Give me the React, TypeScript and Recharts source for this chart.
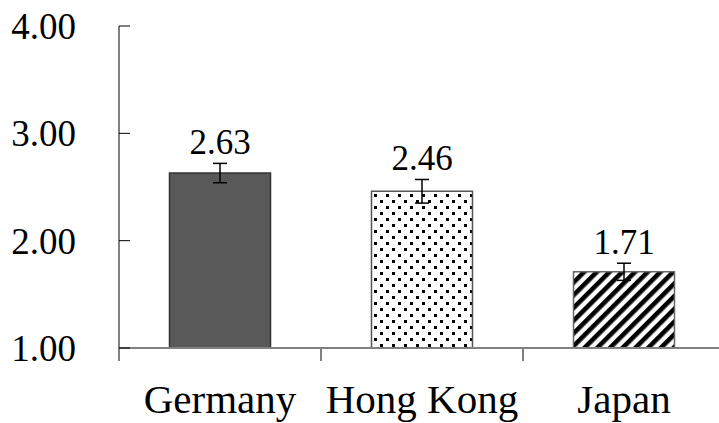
import React from 'react';
import { ComposedChart, Bar, Line, XAxis, YAxis, ErrorBar, LabelList, Cell } from 'recharts';

const categories = ['Germany', 'Hong Kong', 'Japan'];
const means = [2.63, 2.46, 1.71];
const errors = [0.09, 0.11, 0.08];
const yTicks = [1, 2, 3, 4];
const fills = ['#595959', 'url(#dots)', 'url(#stripes)'];
const strokes = ['#333333', '#555555', '#666666'];

const data = categories.map((name, i) => ({
  name,
  value: means[i],
  err: errors[i],
  top: means[i] + errors[i],
}));

const FONT = "'Times New Roman', 'Liberation Serif', 'DejaVu Serif'";
const CHART_W = 730;
const CHART_H = 423;
const MARGIN_RIGHT = 5;
const YAXIS_W = 119;
const BAND = (CHART_W - MARGIN_RIGHT - YAXIS_W) / categories.length;

function XTick(props: any) {
  const { x, y, payload } = props;
  return (
    <g>
      <line x1={x - BAND / 2} x2={x - BAND / 2} y1={y} y2={y + 13} stroke="#808080" strokeWidth={2} />
      <line x1={x + BAND / 2} x2={x + BAND / 2} y1={y} y2={y + 13} stroke="#808080" strokeWidth={2} />
      <text x={x} y={y + 65} textAnchor="middle" fontFamily={FONT} fontSize={41} fill="#000">
        {payload.value}
      </text>
    </g>
  );
}

function YTick(props: any) {
  const { x, y, payload } = props;
  return (
    <g>
      <line x1={x} x2={x + 11} y1={y} y2={y} stroke="#000" strokeWidth={1} />
      <text x={x - 43} y={y} dy="0.35em" textAnchor="end" fontFamily={FONT} fontSize={37} fill="#000">
        {Number(payload.value).toFixed(2)}
      </text>
    </g>
  );
}

export default function App() {
  return (
    <div style={{ position: 'absolute', left: 0, top: 0, width: 719, height: 423, overflow: 'hidden', background: '#fff', fontFamily: FONT }}>
      <ComposedChart
        width={CHART_W}
        height={CHART_H}
        data={data}
        margin={{ top: 26, right: MARGIN_RIGHT, bottom: 0, left: 0 }}
        barCategoryGap="25%"
      >
        <defs>
          <pattern id="dots" width="12" height="12" patternUnits="userSpaceOnUse">
            <rect width="12" height="12" fill="#fff" />
            <rect x="2" y="2" width="3" height="3" fill="#000" />
            <rect x="8" y="8" width="3" height="3" fill="#000" />
          </pattern>
          <pattern id="stripes" width="9" height="9" patternUnits="userSpaceOnUse" patternTransform="rotate(45)">
            <rect width="9" height="9" fill="#fff" />
            <rect width="4.6" height="9" fill="#000" />
          </pattern>
        </defs>
        <XAxis
          dataKey="name"
          height={75}
          tickSize={0}
          tickMargin={0}
          tickLine={false}
          axisLine={{ stroke: '#808080', strokeWidth: 2 }}
          tick={<XTick />}
          interval={0}
        />
        <YAxis
          width={YAXIS_W}
          domain={[1, 4]}
          ticks={yTicks}
          allowDataOverflow
          tickSize={0}
          tickMargin={0}
          tickLine={false}
          axisLine={{ stroke: '#000', strokeWidth: 1 }}
          tick={<YTick />}
          interval={0}
        />
        <Bar dataKey="value" isAnimationActive={false}>
          {data.map((d, i) => (
            <Cell key={d.name} fill={fills[i]} stroke={strokes[i]} strokeWidth={1.5} />
          ))}
          <ErrorBar dataKey="err" width={7} stroke="#000" strokeWidth={1.5} />
        </Bar>
        <Line
          dataKey="top"
          stroke="none"
          dot={false}
          activeDot={false}
          legendType="none"
          isAnimationActive={false}
        >
          <LabelList
            dataKey="value"
            position="top"
            offset={9}
            formatter={(v: any) => Number(v).toFixed(2)}
            fontFamily={FONT}
            fontSize={35}
            fill="#000"
          />
        </Line>
      </ComposedChart>
    </div>
  );
}
